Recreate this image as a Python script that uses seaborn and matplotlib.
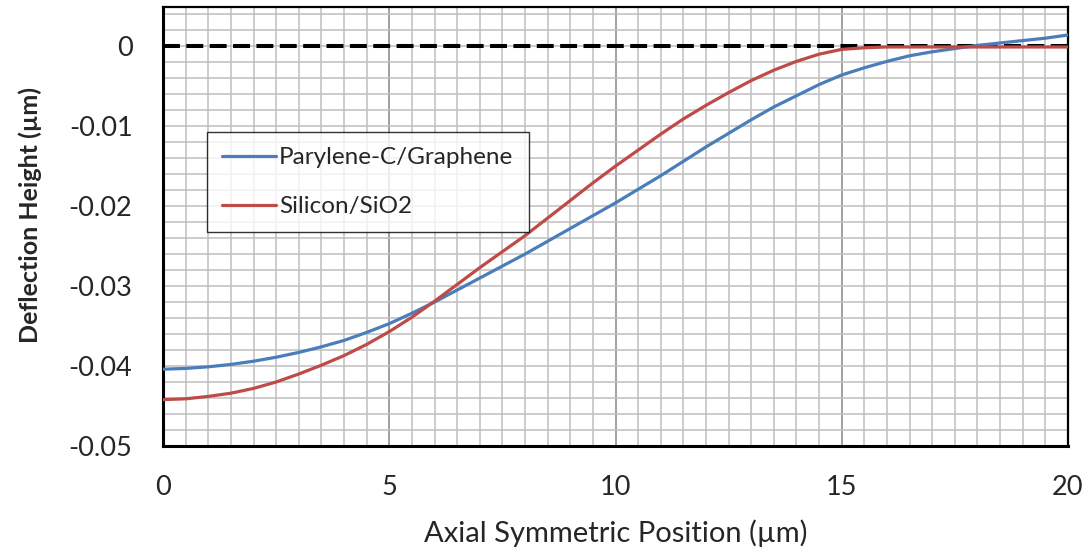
import numpy as np
import pandas as pd
import matplotlib.pyplot as plt
import seaborn as sns
from matplotlib.ticker import MultipleLocator

# radial position (um)
position = [0, 0.5, 1, 1.5, 2, 2.5, 3, 3.5, 4, 4.5, 5, 5.5, 6, 6.5, 7, 7.5, 8, 8.5, 9, 9.5, 10,
            10.5, 11, 11.5, 12, 12.5, 13, 13.5, 14, 14.5, 15, 15.5, 16, 16.5, 17, 17.5, 18, 18.5,
            19, 19.5, 20]

parylene_graphene = [-0.0404, -0.0403, -0.0401, -0.0398, -0.0394, -0.0389, -0.0383, -0.0376,
                     -0.0368, -0.0358, -0.0347, -0.0334, -0.0320, -0.0305, -0.0290, -0.0275,
                     -0.0260, -0.0244, -0.0228, -0.0212, -0.0196, -0.0179, -0.0162, -0.0144,
                     -0.0126, -0.0109, -0.0092, -0.0076, -0.0062, -0.0048, -0.0036, -0.0027,
                     -0.0019, -0.0012, -0.0007, -0.0003, 0.0001, 0.0004, 0.0007, 0.0010, 0.0014]

silicon_sio2 = [-0.0442, -0.0441, -0.0438, -0.0434, -0.0428, -0.0420, -0.0410, -0.0399,
                -0.0387, -0.0373, -0.0357, -0.0339, -0.0319, -0.0298, -0.0277, -0.0257,
                -0.0237, -0.0215, -0.0193, -0.0171, -0.0150, -0.0130, -0.0110, -0.0091,
                -0.0074, -0.0058, -0.0043, -0.0030, -0.0019, -0.0010, -0.0004, -0.0002,
                -0.0001, -0.0001, -0.0001, -0.0001, -0.0001, -0.0001, -0.0001, -0.0001, -0.0001]

baseline = [0.0] * len(position)

series_names = ["Parylene-C/Graphene", "Silicon/SiO2"]
series_colors = ["#4A7EBB", "#BE4B48"]

df = pd.DataFrame({
    "x": position * 2,
    "y": parylene_graphene + silicon_sio2,
    "material": [series_names[0]] * len(position) + [series_names[1]] * len(position),
})
df_zero = pd.DataFrame({"x": position, "y": baseline})

sns.set_style("white")
plt.rcParams['font.family'] = ['Lato', 'DejaVu Sans']

fig = plt.figure(figsize=(10.89, 5.51), dpi=100)
ax = fig.add_axes([0.1497, 0.1906, 0.8310, 0.7967])

sns.lineplot(data=df_zero, x="x", y="y", ax=ax, color="black", lw=2.9,
             dashes=False, legend=False, zorder=2)
ax.lines[0].set_dashes([4.2, 1.6])

sns.lineplot(data=df, x="x", y="y", hue="material", palette=series_colors,
             hue_order=series_names, ax=ax, lw=2.3, zorder=3)

ax.set_xlim(0, 20)
ax.set_ylim(-0.05, 0.0049)
ax.xaxis.set_major_locator(MultipleLocator(5))
ax.xaxis.set_minor_locator(MultipleLocator(0.5))
ax.yaxis.set_major_locator(MultipleLocator(0.01))
ax.yaxis.set_minor_locator(MultipleLocator(0.002))
ax.set_yticks([0, -0.01, -0.02, -0.03, -0.04, -0.05])
ax.set_yticklabels(["0", "-0.01", "-0.02", "-0.03", "-0.04", "-0.05"])

ax.grid(which="minor", axis="both", color="#BFBFBF", lw=1.1)
ax.grid(which="major", axis="y", color="#BFBFBF", lw=1.1)
ax.grid(which="major", axis="x", color="#868686", lw=1.1)
ax.set_axisbelow(True)

ax.tick_params(which="both", length=0, labelsize=19.5)
ax.tick_params(axis="y", pad=22)
ax.tick_params(axis="x", pad=21)
for s in ax.spines.values():
    s.set_color("black")
    s.set_linewidth(1.6)
ax.spines["left"].set_linewidth(2.2)
ax.spines["bottom"].set_linewidth(2.2)

ax.set_xlabel("Axial Symmetric Position (µm)", fontsize=21, labelpad=14)
ax.set_ylabel("Deflection Height (µm)", fontsize=18, fontweight="bold")
ax.yaxis.set_label_coords(-0.134, 0.526)

leg = ax.legend(loc="upper left", bbox_to_anchor=(207 / 1089, 1 - 132 / 551),
                bbox_transform=fig.transFigure, fontsize=17.5, frameon=True,
                fancybox=False, edgecolor="black", borderaxespad=0,
                handlelength=2.2, handletextpad=0.15, labelspacing=1.15,
                borderpad=0.62, title=None)
leg.get_frame().set_linewidth(1.0)
for h in leg.get_lines():
    h.set_linewidth(2.3)

fig.savefig("out.png", dpi=100)
